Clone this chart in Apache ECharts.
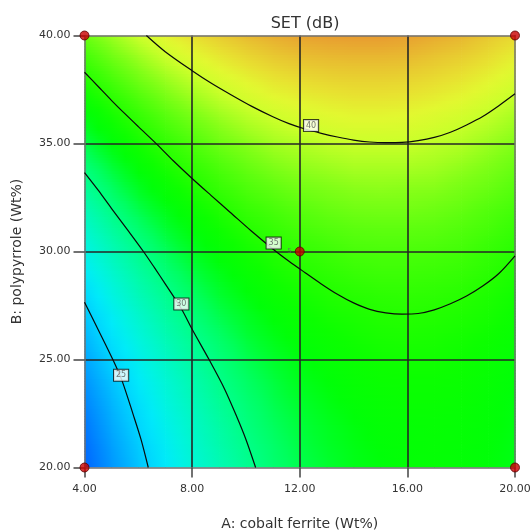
<!DOCTYPE html>
<html>
<head>
<meta charset="utf-8">
<script src="https://cdn.jsdelivr.net/npm/echarts@6/dist/echarts.min.js"></script>
<style>
  html, body { margin: 0; padding: 0; background: #ffffff; }
  #chart { width: 531px; height: 531px; }
</style>
</head>
<body>
<div id="chart"></div>
<script>
// Factor levels of the response grid
const cobaltFerrite = [4, 5, 6, 7, 8, 9, 10, 11, 12, 13, 14, 15, 16, 17, 18, 19, 20];
const polypyrrole = [20, 21, 22, 23, 24, 25, 26, 27, 28, 29, 30, 31, 32, 33, 34, 35, 36, 37, 38, 39, 40];

// Predicted SET (dB) across cobalt ferrite, one list per polypyrrole level
const setAtB20 = [21.0, 22.8, 24.4, 25.9, 27.3, 28.5, 29.6, 30.6, 31.4, 32.0, 32.6, 32.9, 33.2, 33.3, 33.2, 33.0, 32.7];
const setAtB21 = [21.3, 23.1, 24.7, 26.2, 27.6, 28.8, 29.9, 30.8, 31.6, 32.2, 32.7, 33.1, 33.3, 33.4, 33.3, 33.1, 32.7];
const setAtB22 = [21.7, 23.5, 25.1, 26.6, 27.9, 29.1, 30.2, 31.1, 31.8, 32.4, 32.9, 33.3, 33.4, 33.5, 33.4, 33.2, 32.8];
const setAtB23 = [22.2, 23.9, 25.5, 27.0, 28.3, 29.5, 30.5, 31.4, 32.1, 32.7, 33.2, 33.5, 33.7, 33.7, 33.6, 33.3, 32.9];
const setAtB24 = [22.7, 24.4, 26.0, 27.4, 28.7, 29.9, 30.9, 31.7, 32.5, 33.0, 33.5, 33.8, 33.9, 33.9, 33.8, 33.5, 33.1];
const setAtB25 = [23.3, 25.0, 26.5, 27.9, 29.2, 30.3, 31.3, 32.1, 32.8, 33.4, 33.8, 34.1, 34.2, 34.2, 34.0, 33.7, 33.3];
const setAtB26 = [23.9, 25.6, 27.1, 28.5, 29.7, 30.8, 31.8, 32.6, 33.3, 33.8, 34.2, 34.5, 34.6, 34.5, 34.3, 34.0, 33.6];
const setAtB27 = [24.5, 26.2, 27.7, 29.1, 30.3, 31.4, 32.3, 33.1, 33.8, 34.3, 34.6, 34.9, 35.0, 34.9, 34.7, 34.4, 33.9];
const setAtB28 = [25.2, 26.9, 28.4, 29.7, 30.9, 32.0, 32.9, 33.7, 34.3, 34.8, 35.1, 35.3, 35.4, 35.3, 35.1, 34.7, 34.2];
const setAtB29 = [26.0, 27.6, 29.1, 30.4, 31.6, 32.6, 33.5, 34.3, 34.9, 35.3, 35.7, 35.9, 35.9, 35.8, 35.6, 35.2, 34.6];
const setAtB30 = [26.8, 28.4, 29.8, 31.1, 32.3, 33.3, 34.2, 34.9, 35.5, 35.9, 36.3, 36.4, 36.4, 36.3, 36.1, 35.6, 35.1];
const setAtB31 = [27.6, 29.2, 30.6, 31.9, 33.0, 34.0, 34.9, 35.6, 36.2, 36.6, 36.9, 37.0, 37.0, 36.9, 36.6, 36.2, 35.6];
const setAtB32 = [28.5, 30.1, 31.5, 32.7, 33.8, 34.8, 35.7, 36.3, 36.9, 37.3, 37.6, 37.7, 37.7, 37.5, 37.2, 36.7, 36.2];
const setAtB33 = [29.5, 31.0, 32.4, 33.6, 34.7, 35.7, 36.5, 37.1, 37.7, 38.0, 38.3, 38.4, 38.3, 38.2, 37.8, 37.4, 36.8];
const setAtB34 = [30.4, 31.9, 33.3, 34.5, 35.6, 36.5, 37.3, 38.0, 38.5, 38.8, 39.1, 39.1, 39.1, 38.9, 38.5, 38.0, 37.4];
const setAtB35 = [31.5, 33.0, 34.3, 35.5, 36.5, 37.5, 38.2, 38.9, 39.3, 39.7, 39.9, 39.9, 39.9, 39.6, 39.3, 38.7, 38.1];
const setAtB36 = [32.6, 34.0, 35.3, 36.5, 37.5, 38.4, 39.2, 39.8, 40.3, 40.6, 40.8, 40.8, 40.7, 40.4, 40.0, 39.5, 38.8];
const setAtB37 = [33.7, 35.1, 36.4, 37.6, 38.6, 39.5, 40.2, 40.8, 41.2, 41.5, 41.7, 41.7, 41.6, 41.3, 40.9, 40.3, 39.6];
const setAtB38 = [34.9, 36.3, 37.6, 38.7, 39.7, 40.5, 41.2, 41.8, 42.2, 42.5, 42.6, 42.6, 42.5, 42.2, 41.8, 41.2, 40.5];
const setAtB39 = [36.1, 37.5, 38.7, 39.9, 40.8, 41.6, 42.3, 42.9, 43.3, 43.5, 43.6, 43.6, 43.5, 43.1, 42.7, 42.1, 41.3];
const setAtB40 = [37.4, 38.7, 40.0, 41.1, 42.0, 42.8, 43.5, 44.0, 44.4, 44.6, 44.7, 44.7, 44.5, 44.1, 43.7, 43.0, 42.3];

// Contour lines of SET, as [cobalt ferrite, polypyrrole] points
const contour25 = [[4, 27.65], [4.5, 26.4], [5.07, 24.95], [5.4, 24.0], [5.81, 22.45], [6.1, 21.3], [6.37, 20]];
const contour30 = [[4, 33.65], [4.5, 32.85], [5, 32.0], [5.6, 31.0], [6.19, 30.0], [6.6, 29.25], [7.0, 28.5],
  [7.6, 27.35], [8, 26.4], [8.65, 24.95], [9.2, 23.65], [9.66, 22.35], [10.0, 21.3], [10.36, 20]];
const contour35 = [[4, 38.3], [4.5, 37.65], [5, 37.0], [5.5, 36.38], [6, 35.78], [6.7, 34.95], [7.3, 34.2],
  [8, 33.38], [8.7, 32.6], [9.41, 31.82], [10.2, 30.95], [11.0, 30.12], [11.6, 29.55], [12.2, 29.02],
  [12.8, 28.5], [13.4, 28.02], [14.0, 27.62], [14.6, 27.32], [15.2, 27.16], [15.8, 27.1], [16.4, 27.13],
  [17.0, 27.3], [17.6, 27.58], [18.2, 27.94], [18.8, 28.4], [19.4, 28.98], [20, 29.8]];
const contour40 = [[6.3, 40], [7, 39.25], [8, 38.37], [8.7, 37.8], [9.41, 37.28], [10.2, 36.73], [11.0, 36.24],
  [11.6, 35.92], [12.2, 35.67], [12.8, 35.47], [13.4, 35.3], [14.0, 35.16], [14.6, 35.07], [15.2, 35.04],
  [15.8, 35.05], [16.4, 35.13], [17.0, 35.28], [17.6, 35.52], [18.2, 35.86], [18.8, 36.25], [19.4, 36.75], [20, 37.3]];

// Contour level tags
const tagLevels = [25, 30, 35, 40];
const tagA = [5.36, 7.6, 11.03, 12.42];
const tagB = [24.27, 27.57, 30.39, 35.83];

// Design points and their run counts
const designA = [4, 4, 20, 20, 12];
const designB = [20, 40, 20, 40, 30];
const designRuns = [1, 1, 1, 1, 5];

const setRows = [setAtB20, setAtB21, setAtB22, setAtB23, setAtB24, setAtB25, setAtB26, setAtB27, setAtB28,
  setAtB29, setAtB30, setAtB31, setAtB32, setAtB33, setAtB34, setAtB35, setAtB36, setAtB37, setAtB38,
  setAtB39, setAtB40];

// Colour ramp for the response surface (blue -> cyan -> green -> yellow -> orange)
const ramp = [
  [20, '#0048ff'], [21, '#0064ff'], [22, '#0080ff'], [23, '#009cff'], [24, '#00b8ff'], [25, '#00d4ff'],
  [26, '#00eafa'], [27, '#00f4e0'], [28, '#00f8c4'], [29, '#00fca6'], [30, '#00ff86'], [31, '#00ff62'],
  [32, '#00ff30'], [33, '#00ff08'], [34, '#0cff00'], [35, '#24ff00'], [36, '#3eff06'], [37, '#5cff0e'],
  [38, '#7eff16'], [39, '#a6ff20'], [40, '#ccff2a'], [41, '#e2f830'], [42, '#e8e030'], [43, '#e8c830'],
  [44, '#e8ae30'], [45, '#e89430']
];
const rampRgb = ramp.map(([v, c]) => [v, parseInt(c.slice(1, 3), 16), parseInt(c.slice(3, 5), 16), parseInt(c.slice(5, 7), 16)]);
function colorOf(v) {
  if (v <= rampRgb[0][0]) v = rampRgb[0][0];
  const last = rampRgb[rampRgb.length - 1];
  if (v >= last[0]) v = last[0];
  for (let i = 0; i < rampRgb.length - 1; i++) {
    const p = rampRgb[i], q = rampRgb[i + 1];
    if (v <= q[0]) {
      const t = (v - p[0]) / (q[0] - p[0]);
      const r = Math.round(p[1] + (q[1] - p[1]) * t);
      const g = Math.round(p[2] + (q[2] - p[2]) * t);
      const b = Math.round(p[3] + (q[3] - p[3]) * t);
      return 'rgb(' + r + ',' + g + ',' + b + ')';
    }
  }
  return ramp[ramp.length - 1][1];
}

// One surface patch per pair of neighbouring grid levels
const patches = [];
for (let j = 0; j < polypyrrole.length - 1; j++) {
  for (let i = 0; i < cobaltFerrite.length - 1; i++) {
    patches.push([
      cobaltFerrite[i], polypyrrole[j], cobaltFerrite[i + 1], polypyrrole[j + 1],
      setRows[j][i], setRows[j][i + 1], setRows[j + 1][i], setRows[j + 1][i + 1]
    ]);
  }
}

function renderPatch(params, api) {
  const p0 = api.coord([api.value(0), api.value(1)]);
  const p1 = api.coord([api.value(2), api.value(3)]);
  const v00 = api.value(4), v10 = api.value(5), v01 = api.value(6), v11 = api.value(7);
  const strips = 8;
  const h = (p0[1] - p1[1]) / strips;
  const w = p1[0] - p0[0];
  const children = [];
  for (let s = 0; s < strips; s++) {
    const t = (s + 0.5) / strips;
    const vl = v00 + (v01 - v00) * t;
    const vr = v10 + (v11 - v10) * t;
    children.push({
      type: 'rect',
      silent: true,
      shape: { x: p0[0], y: p0[1] - (s + 1) * h, width: w + 0.7, height: h + 0.7 },
      style: {
        fill: new echarts.graphic.LinearGradient(0, 0, 1, 0, [
          { offset: 0, color: colorOf(vl) },
          { offset: 0.5, color: colorOf((vl + vr) / 2) },
          { offset: 1, color: colorOf(vr) }
        ])
      }
    });
  }
  return { type: 'group', children: children };
}

const font = 'DejaVu Sans';
const frameLine = { show: true, onZero: false, lineStyle: { color: '#707070', width: 1.5 } };
const gridLine = { show: true, showMinLine: false, showMaxLine: false, lineStyle: { color: '#262626', width: 1.6 } };

function contourSeries(name, pts) {
  return {
    name: name,
    type: 'line',
    data: pts,
    smooth: 0.3,
    symbol: 'none',
    clip: true,
    z: 6,
    lineStyle: { color: '#0a0a0a', width: 1.2 },
    silent: true
  };
}

const chart = echarts.init(document.getElementById('chart'), null, { renderer: 'canvas' });
chart.setOption({
  animation: false,
  backgroundColor: '#ffffff',
  title: {
    text: 'SET (dB)',
    left: 300,
    top: 11,
    textAlign: 'center',
    textStyle: { fontFamily: font, fontSize: 16, fontWeight: 'normal', color: '#333333' }
  },
  grid: { left: 84.5, right: 16, top: 35.5, bottom: 63.5, outerBoundsMode: 'none' },
  xAxis: [
    {
      type: 'value', min: 4, max: 20, interval: 4, position: 'bottom', z: 5,
      axisLine: frameLine,
      axisTick: { show: true, length: 10, lineStyle: { color: '#444444', width: 1.5 } },
      axisLabel: { margin: 16, fontFamily: font, fontSize: 11, color: '#333333', formatter: v => v.toFixed(2) },
      splitLine: gridLine,
      name: 'A: cobalt ferrite (Wt%)', nameLocation: 'middle', nameGap: 50,
      nameTextStyle: { fontFamily: font, fontSize: 14, color: '#333333' }
    },
    {
      type: 'value', min: 4, max: 20, position: 'top', z: 5,
      axisLine: frameLine, axisTick: { show: false }, axisLabel: { show: false }, splitLine: { show: false }
    }
  ],
  yAxis: [
    {
      type: 'value', min: 20, max: 40, interval: 5, position: 'left', z: 5,
      axisLine: frameLine,
      axisTick: { show: true, length: 11, lineStyle: { color: '#444444', width: 1.5 } },
      axisLabel: { margin: 14, fontFamily: font, fontSize: 11, color: '#333333', formatter: v => v.toFixed(2) },
      splitLine: gridLine,
      name: 'B: polypyrrole (Wt%)', nameLocation: 'middle', nameGap: 60,
      nameTextStyle: { fontFamily: font, fontSize: 14, color: '#333333' }
    },
    {
      type: 'value', min: 20, max: 40, position: 'right', z: 5,
      axisLine: frameLine, axisTick: { show: false }, axisLabel: { show: false }, splitLine: { show: false }
    }
  ],
  series: [
    {
      name: 'SET surface',
      type: 'custom',
      data: patches,
      encode: { x: [0, 2], y: [1, 3] },
      renderItem: renderPatch,
      clip: true,
      z: 1,
      silent: true
    },
    contourSeries('25', contour25),
    contourSeries('30', contour30),
    contourSeries('35', contour35),
    contourSeries('40', contour40),
    {
      name: 'levels',
      type: 'scatter',
      data: tagLevels.map((lv, k) => [tagA[k], tagB[k], lv]),
      symbol: 'rect',
      symbolSize: 1,
      itemStyle: { color: 'rgba(0,0,0,0)' },
      z: 7,
      silent: true,
      label: {
        show: true, position: 'inside', formatter: p => String(p.value[2]),
        fontFamily: font, fontSize: 8, lineHeight: 9, color: '#555555',
        backgroundColor: '#ffffff', borderColor: '#111111', borderWidth: 1, padding: [1, 2, 1, 2]
      }
    },
    {
      name: 'design points',
      type: 'scatter',
      data: designA.map((a, k) => [a, designB[k], designRuns[k]]),
      symbol: 'circle',
      symbolSize: 9,
      clip: false,
      z: 8,
      silent: true,
      itemStyle: { color: '#c80000', borderColor: '#5a0000', borderWidth: 1 },
      label: {
        show: true, position: 'left', distance: 3,
        formatter: p => (p.value[2] > 1 ? String(p.value[2]) : ''),
        fontFamily: font, fontSize: 7, color: '#666666'
      }
    }
  ]
});
</script>
</body>
</html>
